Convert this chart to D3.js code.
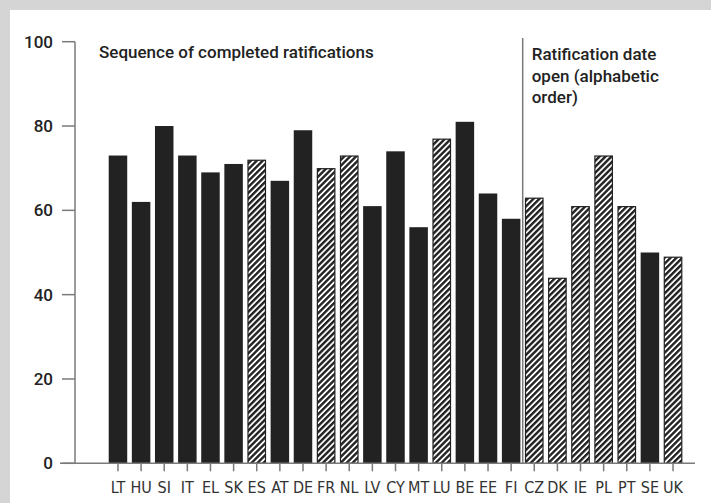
<!DOCTYPE html>
<html><head><meta charset="utf-8">
<script src="https://cdn.jsdelivr.net/npm/d3@7"></script>
<style>
html,body{margin:0;padding:0;background:#d5d5d5;}
svg{display:block;}
</style></head>
<body>
<svg id="chart" width="711" height="503"></svg>
<script>
const countries = ["LT","HU","SI","IT","EL","SK","ES","AT","DE","FR","NL","LV","CY","MT","LU","BE","EE","FI","CZ","DK","IE","PL","PT","SE","UK"];
const values = [73,62,80,73,69,71,72,67,79,70,73,61,74,56,77,81,64,58,63,44,61,73,61,50,49];
const hatched = ["ES","FR","NL","LU","CZ","DK","IE","PL","PT","UK"];
const yTicks = [0,20,40,60,80,100];
const completedLabel = "Sequence of completed ratifications";
const openLabel = ["Ratification date","open (alphabetic","order)"];
const firstOpen = "CZ";

const svg = d3.select("#chart");
svg.append("rect").attr("x",10).attr("y",10).attr("width",701).attr("height",493).attr("fill","#ffffff");

const defs = svg.append("defs");
const pat = defs.append("pattern").attr("id","hatch").attr("patternUnits","userSpaceOnUse")
  .attr("width",4.2).attr("height",4.2).attr("patternTransform","rotate(45)");
pat.append("rect").attr("width",4.2).attr("height",4.2).attr("fill","#ffffff");
pat.append("rect").attr("x",0).attr("width",2.4).attr("height",4.2).attr("fill","#222");

const x = d3.scaleBand().domain(countries).range([106.4,684.6]).paddingInner(0.2).paddingOuter(0.1);
const y = d3.scaleLinear().domain([0,100]).range([463.3,41.7]);

const axisColor = "#7a7a7a";
const font = "'Liberation Sans Narrow','DejaVu Sans Condensed','Roboto Condensed',Roboto,sans-serif";

// bars
svg.append("g").selectAll("rect").data(countries).join("rect")
  .attr("x",d=>x(d)+ (hatched.includes(d)?0.5:0))
  .attr("y",(d,i)=>y(values[i]) + (hatched.includes(d)?0.5:0))
  .attr("width",d=>x.bandwidth() - (hatched.includes(d)?1:0))
  .attr("height",(d,i)=>y(0)-y(values[i]) - (hatched.includes(d)?0.5:0))
  .attr("fill",d=>hatched.includes(d)?"url(#hatch)":"#222")
  .attr("stroke",d=>hatched.includes(d)?"#222":"none")
  .attr("stroke-width",1.2);

// y axis
svg.append("line").attr("x1",75).attr("x2",75).attr("y1",y(100)).attr("y2",y(0))
  .attr("stroke",axisColor).attr("stroke-width",1.5);
const yt = svg.append("g");
yt.selectAll("line").data(yTicks).join("line")
  .attr("x1",62).attr("x2",75).attr("y1",d=>y(d)).attr("y2",d=>y(d))
  .attr("stroke",axisColor).attr("stroke-width",1.5);
yt.selectAll("text").data(yTicks).join("text")
  .attr("x",53).attr("y",d=>y(d)).attr("dy","0.36em").attr("text-anchor","end")
  .attr("font-family","Roboto,'Liberation Sans',sans-serif").attr("font-size",17).attr("font-weight",500)
  .attr("fill","#222").text(d=>d);

// x axis
svg.append("line").attr("x1",60).attr("x2",695).attr("y1",y(0)).attr("y2",y(0))
  .attr("stroke",axisColor).attr("stroke-width",1.5);
const xt = svg.append("g");
xt.selectAll("line").data(countries).join("line")
  .attr("x1",d=>x(d)+x.bandwidth()/2).attr("x2",d=>x(d)+x.bandwidth()/2)
  .attr("y1",y(0)).attr("y2",y(0)+8)
  .attr("stroke",axisColor).attr("stroke-width",1.5);
xt.selectAll("text").data(countries).join("text")
  .attr("x",d=>x(d)+x.bandwidth()/2).attr("y",493).attr("text-anchor","middle")
  .attr("font-family",font).attr("font-size",16)
  .attr("fill","#333").text(d=>d);

// divider
const divX = x(firstOpen) - x.step()*x.paddingInner()/2;
svg.append("line").attr("x1",divX).attr("x2",divX).attr("y1",38).attr("y2",y(0))
  .attr("stroke",axisColor).attr("stroke-width",1.5);

// annotations
svg.append("text").attr("x",99).attr("y",58).attr("font-family","Roboto,sans-serif")
  .attr("font-size",17).attr("font-weight",500).attr("fill","#222").text(completedLabel);
svg.append("g").selectAll("text").data(openLabel).join("text")
  .attr("x",divX+9).attr("y",(d,i)=>60+i*21.5).attr("font-family","Roboto,sans-serif")
  .attr("font-size",17).attr("font-weight",500).attr("fill","#222").text(d=>d);
</script>
</body></html>
